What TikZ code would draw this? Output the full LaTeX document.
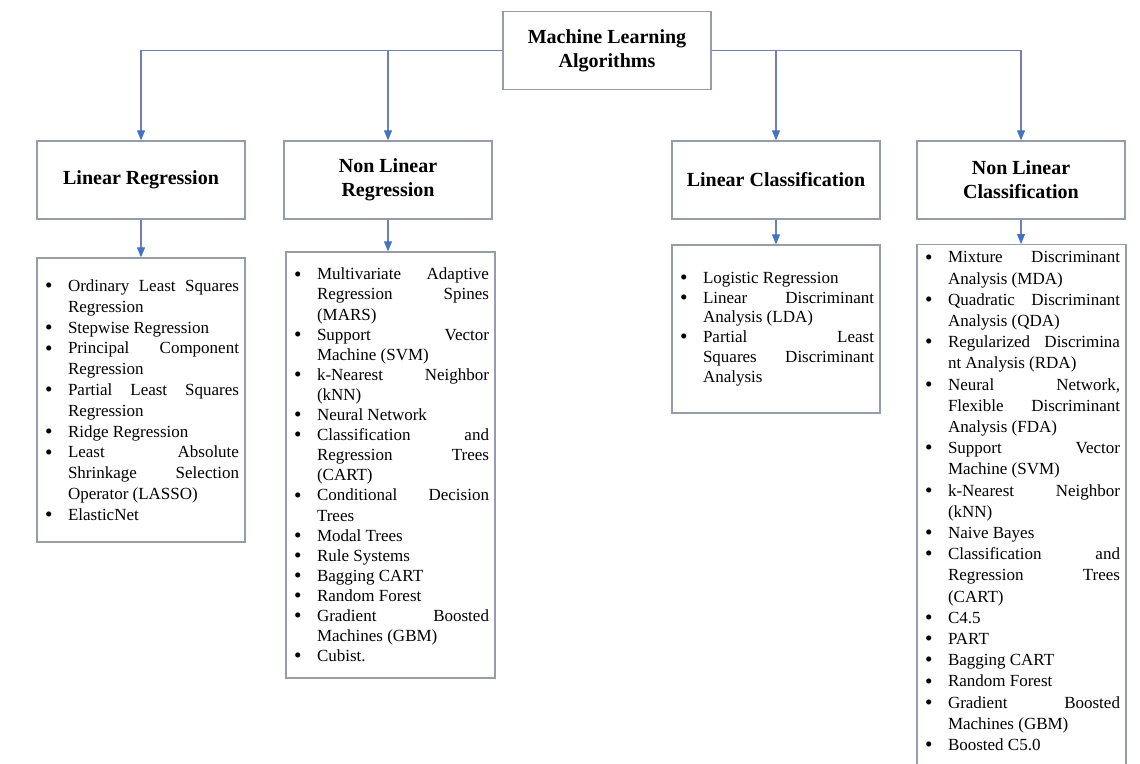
\documentclass[tikz,border=0pt]{standalone}
\usepackage{fontspec}
\setmainfont{Liberation Serif}
\usetikzlibrary{arrows.meta}
\definecolor{boxgray}{RGB}{150,156,168}
\definecolor{connline}{RGB}{112,126,188}
\definecolor{arrowblue}{RGB}{68,114,196}
\tolerance=10000
\hbadness=10000
\hyphenpenalty=10000
\exhyphenpenalty=10000
\newcommand{\bigbul}{\smash{\raisebox{-1.2pt}{\scalebox{1.25}{\textbullet}}}}
\newenvironment{blist}{\begin{list}{\bigbul}{%
  \setlength{\leftmargin}{25pt}\setlength{\labelwidth}{10pt}%
  \setlength{\labelsep}{15pt}\setlength{\itemsep}{0pt}%
  \setlength{\parsep}{0pt}\setlength{\topsep}{0pt}%
  \setlength{\partopsep}{0pt}\setlength{\itemindent}{0pt}%
  \renewcommand{\makelabel}[1]{\hspace{2pt}##1\hfil}}}{\end{list}}
\tikzset{
  headbox/.style={draw=boxgray, line width=1.3pt, minimum width=208pt,
    minimum height=78pt, align=center, inner sep=2pt,
    font=\fontsize{20}{24}\selectfont\bfseries},
  listbox/.style={draw=boxgray, line width=1.3pt, inner xsep=6pt, inner ysep=0pt},
  conn/.style={draw=connline, line width=1.1pt,
    -{Triangle[length=10pt,width=8pt,color=arrowblue]}}
}
\begin{document}
\begin{tikzpicture}[x=1pt,y=-1pt]
\useasboundingbox (0,0) rectangle (1140,763);
\clip (0,0) rectangle (1140,763);
\fill[white] (0,0) rectangle (1140,763);

\node[headbox] (root) at (607,50.5) {Machine Learning\\Algorithms};
\node[headbox] (lr) at (141,180) {Linear Regression};
\node[headbox] (nlr) at (388,180) {Non Linear\\Regression};
\node[headbox] (lc) at (776,180) {Linear Classification};
\node[headbox] (nlc) at (1021,180) {Non Linear\\Classification};

\node[listbox, minimum height=284pt] (lrl) at (141,400) {%
\fontsize{17}{20.8}\selectfont
\begin{minipage}{196pt}\begin{blist}
\item Ordinary Least Squares\linebreak Regression
\item Stepwise Regression
\item Principal Component\linebreak Regression
\item Partial Least Squares\linebreak Regression
\item Ridge Regression
\item Least Absolute\linebreak Shrinkage Selection\linebreak Operator (LASSO)
\item ElasticNet
\end{blist}\end{minipage}};

\node[listbox, minimum height=426pt] (nlrl) at (390.5,465) {%
\fontsize{17}{20.1}\selectfont
\begin{minipage}{197pt}\begin{blist}
\item Multivariate Adaptive\linebreak Regression Spines\linebreak (MARS)
\item Support Vector\linebreak Machine (SVM)
\item k-Nearest Neighbor\linebreak (kNN)
\item Neural Network
\item Classification and\linebreak Regression Trees\linebreak (CART)
\item Conditional Decision\linebreak Trees
\item Modal Trees
\item Rule Systems
\item Bagging CART
\item Random Forest
\item Gradient Boosted\linebreak Machines (GBM)
\item Cubist.
\end{blist}\end{minipage}};

\node[listbox, minimum height=168pt] (lcl) at (776,329) {%
\fontsize{17}{19.8}\selectfont
\begin{minipage}{196pt}\begin{blist}
\item Logistic Regression
\item Linear Discriminant\linebreak Analysis (LDA)
\item Partial Least\linebreak Squares Discriminant\linebreak Analysis
\end{blist}\end{minipage}};

\node[listbox, anchor=north, inner ysep=7pt] (nlcl) at (1021.5,244) {%
\fontsize{17}{21.2}\selectfont
\begin{minipage}[t][540pt][t]{197pt}\begin{blist}
\item Mixture Discriminant\linebreak Analysis (MDA)
\item Quadratic Discriminant\linebreak Analysis (QDA)
\item Regularized Discrimina\linebreak nt Analysis (RDA)
\item Neural Network,\linebreak Flexible Discriminant\linebreak Analysis (FDA)
\item Support Vector\linebreak Machine (SVM)
\item k-Nearest Neighbor\linebreak (kNN)
\item Naive Bayes
\item Classification and\linebreak Regression Trees\linebreak (CART)
\item C4.5
\item PART
\item Bagging CART
\item Random Forest
\item Gradient Boosted\linebreak Machines (GBM)
\item Boosted C5.0
\end{blist}\end{minipage}};

\draw[conn] (root.west) -| (lr.north);
\draw[conn] (root.west) -| (nlr.north);
\draw[conn] (root.east) -| (lc.north);
\draw[conn] (root.east) -| (nlc.north);
\draw[conn] (lr.south) -- (lr.south |- lrl.north);
\draw[conn] (nlr.south) -- (nlr.south |- nlrl.north);
\draw[conn] (lc.south) -- (lc.south |- lcl.north);
\draw[conn] (nlc.south) -- (nlc.south |- nlcl.north);
\end{tikzpicture}
\end{document}
